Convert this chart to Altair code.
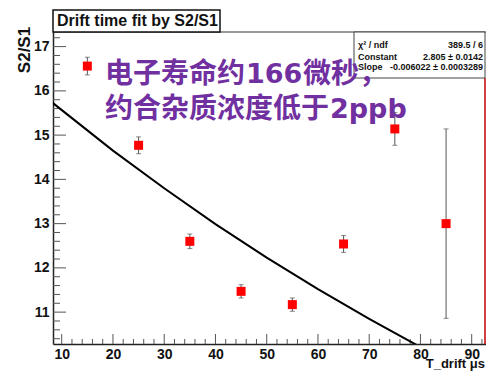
import altair as alt
import pandas as pd

# ---- data ----
t_drift = [15, 25, 35, 45, 55, 65, 75, 85]
s2s1 = [16.56, 14.77, 12.60, 11.47, 11.17, 12.54, 15.14, 13.00]
s2s1_err = [0.20, 0.19, 0.165, 0.15, 0.15, 0.19, 0.37, 2.14]

fit_t = [8, 20, 30, 40, 50, 60, 70, 80]
fit_v = [15.75, 14.65, 13.80, 12.99, 12.23, 11.52, 10.85, 10.21]

x_major = [10, 20, 30, 40, 50, 60, 70, 80, 90]
x_minor = [v for v in range(10, 93, 2) if v % 10 != 0]
y_major = [11, 12, 13, 14, 15, 16, 17]
y_minor = [10.4, 10.6, 10.8, 11.2, 11.4, 11.6, 11.8, 12.2, 12.4, 12.6, 12.8,
           13.2, 13.4, 13.6, 13.8, 14.2, 14.4, 14.6, 14.8, 15.2, 15.4, 15.6, 15.8,
           16.2, 16.4, 16.6, 16.8, 17.2]

stats_names = ["\u03c7\u00b2 / ndf", "Constant", "Slope"]
stats_vals = ["389.5 / 6", "2.805 \u00b1 0.0142", "-0.006022 \u00b1 0.0003289"]

W, H = 433, 312
FONT = "Liberation Sans"
PURPLE = "#7030A0"

xs = alt.Scale(domain=[8.3, 92.79], nice=False, zero=False)
ys = alt.Scale(domain=[10.28, 17.33], nice=False, zero=False)

pts = pd.DataFrame({"t": t_drift, "v": s2s1, "e": s2s1_err})
pts["lo"] = pts["v"] - pts["e"]
pts["hi"] = pts["v"] + pts["e"]
fit = pd.DataFrame({"t": fit_t, "v": fit_v})

base = alt.Chart(pts)

axes_layer = alt.Chart(pd.DataFrame({"t": [50], "v": [14]})).mark_point(opacity=0).encode(
    x=alt.X("t:Q", scale=xs, title=None,
            axis=alt.Axis(values=x_major, ticks=False, grid=False, labelFont=FONT,
                          labelFontWeight="bold", labelFontSize=14, labelColor="#111",
                          labelPadding=3, domainColor="#222", domainWidth=1.5, format="d")),
    y=alt.Y("v:Q", scale=ys, title=None,
            axis=alt.Axis(values=y_major, ticks=False, grid=False, labelFont=FONT,
                          labelFontWeight="bold", labelFontSize=14, labelColor="#111",
                          labelPadding=4, domainColor="#222", domainWidth=1.5, format="d")),
)

xmaj = alt.Chart(pd.DataFrame({"t": x_major})).mark_rule(color="#555", strokeWidth=1).encode(
    x=alt.X("t:Q", scale=xs), y=alt.value(H - 10), y2=alt.value(H))
xmin = alt.Chart(pd.DataFrame({"t": x_minor})).mark_rule(color="#555", strokeWidth=1).encode(
    x=alt.X("t:Q", scale=xs), y=alt.value(H - 5), y2=alt.value(H))
ymaj = alt.Chart(pd.DataFrame({"v": y_major})).mark_rule(color="#555", strokeWidth=1).encode(
    y=alt.Y("v:Q", scale=ys), x=alt.value(0), x2=alt.value(13))
ymin = alt.Chart(pd.DataFrame({"v": y_minor})).mark_rule(color="#555", strokeWidth=1).encode(
    y=alt.Y("v:Q", scale=ys), x=alt.value(0), x2=alt.value(7))

fit_line = alt.Chart(fit).mark_line(color="black", strokeWidth=2, clip=True).encode(
    x=alt.X("t:Q", scale=xs), y=alt.Y("v:Q", scale=ys))

err_rule = base.mark_rule(color="#555", strokeWidth=1).encode(
    x=alt.X("t:Q", scale=xs), y=alt.Y("lo:Q", scale=ys), y2="hi:Q")
cap_lo = base.mark_tick(color="#555", orient="horizontal", size=5, thickness=1).encode(
    x=alt.X("t:Q", scale=xs), y=alt.Y("lo:Q", scale=ys))
cap_hi = base.mark_tick(color="#555", orient="horizontal", size=5, thickness=1).encode(
    x=alt.X("t:Q", scale=xs), y=alt.Y("hi:Q", scale=ys))
markers = base.mark_square(color="#ff0000", size=81, opacity=1).encode(
    x=alt.X("t:Q", scale=xs), y=alt.Y("v:Q", scale=ys))

one = alt.Chart(pd.DataFrame({"a": [0]}))

top_line = one.mark_rule(color="#333", strokeWidth=1).encode(
    x=alt.value(0), x2=alt.value(W), y=alt.value(0))
right_line = one.mark_rule(color="#c00000", strokeWidth=1.5).encode(
    x=alt.value(W - 1), y=alt.value(46), y2=alt.value(H))

title_box = one.mark_rect(fill="white", stroke="#111", strokeWidth=1.5).encode(
    x=alt.value(0), x2=alt.value(167), y=alt.value(-22), y2=alt.value(0))
title_text = one.mark_text(text="Drift time fit by S2/S1", font=FONT, fontWeight="bold",
                           fontSize=16, align="left", baseline="alphabetic", color="#111").encode(
    x=alt.value(4), y=alt.value(-6))

stats_box = one.mark_rect(fill="white", stroke="#444", strokeWidth=1).encode(
    x=alt.value(301), x2=alt.value(W - 1), y=alt.value(0), y2=alt.value(46))
row_y = [13, 24.7, 35.3]
stats_layers = []
for name, val, yy in zip(stats_names, stats_vals, row_y):
    stats_layers.append(one.mark_text(text=name, font=FONT, fontWeight="bold", fontSize=9,
                                      align="left", baseline="middle", color="#111").encode(
        x=alt.value(305), y=alt.value(yy)))
    stats_layers.append(one.mark_text(text=val, font=FONT, fontWeight="bold", fontSize=9,
                                      align="right", baseline="middle", color="#111").encode(
        x=alt.value(W - 3), y=alt.value(yy)))

ytitle = one.mark_text(text="S2/S1", font=FONT, fontWeight="bold", fontSize=17, angle=270,
                       align="center", baseline="middle", color="#111").encode(
    x=alt.value(-28), y=alt.value(18))
xtitle = one.mark_text(text="T_drift \u03bcs", font=FONT, fontWeight="bold", fontSize=13,
                       align="right", baseline="alphabetic", color="#111").encode(
    x=alt.value(W - 1), y=alt.value(336))

CJK = "Noto Sans CJK SC"
def seg(txt, x, y, font, size):
    return one.mark_text(text=txt, font=font, fontWeight="bold", fontSize=size, align="left",
                         baseline="alphabetic", color=PURPLE).encode(x=alt.value(x), y=alt.value(y))

ann = [
    seg("电子寿命约", 52, 51, CJK, 28),
    seg("166", 193, 51, "DejaVu Sans", 27),
    seg("微秒，", 250, 51, CJK, 28),
    seg("约合杂质浓度低于", 52, 86, CJK, 28),
    seg("2ppb", 277, 86, "DejaVu Sans", 27),
]

chart = alt.layer(
    axes_layer, xmaj, xmin, ymaj, ymin, fit_line, err_rule, cap_lo, cap_hi, markers,
    top_line, right_line, stats_box, *stats_layers, title_box, title_text,
    ytitle, xtitle, *ann
).properties(
    width=W, height=H,
    autosize=alt.AutoSizeParams(type="none"),
    padding={"left": 45, "top": 24, "right": 0, "bottom": 27},
    background="white",
).configure_view(stroke=None)

chart.save("out.html", embed_options={"renderer": "svg", "actions": False})
